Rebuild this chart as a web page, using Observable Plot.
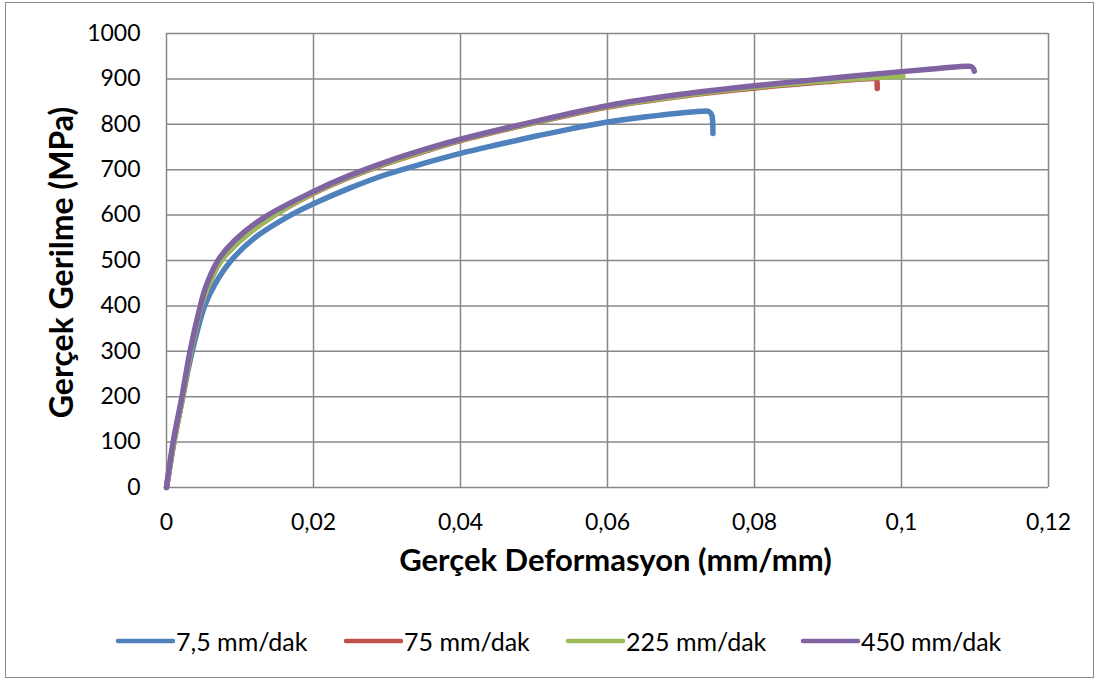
<!DOCTYPE html>
<html>
<head>
<meta charset="utf-8">
<script src="https://cdn.jsdelivr.net/npm/d3@7"></script>
<script src="https://cdn.jsdelivr.net/npm/@observablehq/plot@0.6"></script>
<style>
  html, body { margin: 0; padding: 0; background: #fff; }
  body { width: 1099px; height: 681px; position: relative; overflow: hidden; font-family: Lato, "Open Sans", sans-serif; }
  #frame { position: absolute; left: 5px; top: 2px; width: 1087px; height: 674px; border: 1.5px solid #8a8a8a; }
  #plot { position: absolute; left: 0; top: 0; }
  #legend { position: absolute; left: 0; top: 626px; width: 1099px; height: 30px; font-size: 25px; color: #000; }
  #legend .item { position: absolute; top: 0; display: flex; align-items: center; height: 30px; }
  #legend svg { margin-right: 1px; }
</style>
</head>
<body>
<div id="frame"></div>
<div id="plot"></div>
<div id="legend"></div>
<script>
// True strain (mm/mm) vs. true stress (MPa) for four crosshead speeds
const seriesNames = ["7,5 mm/dak", "75 mm/dak", "225 mm/dak", "450 mm/dak"];
const seriesColors = ["#4F81BD", "#C0504D", "#9BBB59", "#8064A2"];

const strain7 = [0, 0.001, 0.0022, 0.0035, 0.0052, 0.0066, 0.0088, 0.012, 0.0169, 0.02, 0.025, 0.03, 0.035, 0.04, 0.045, 0.05, 0.055, 0.06, 0.065, 0.07, 0.0731, 0.0738, 0.0742, 0.07432, 0.07435];
const stress7 = [0, 100, 200, 300, 400, 448, 500, 550, 600, 625, 660, 690, 714, 736, 755, 773, 790, 805, 816, 825, 829, 828, 820, 800, 780];

const strain75 = [0, 0.001, 0.0022, 0.0033, 0.0047, 0.0055, 0.0073, 0.0098, 0.0138, 0.02, 0.025, 0.03, 0.035, 0.04, 0.05, 0.06, 0.07, 0.08, 0.09, 0.0962, 0.0966, 0.09668, 0.0967];
const stress75 = [0, 100, 200, 300, 400, 437, 497, 541, 591, 648, 684, 714, 740, 764, 803, 838, 862, 880, 894, 901, 900, 890, 879];

const strain225 = [0, 0.001, 0.0022, 0.0033, 0.0047, 0.0055, 0.0073, 0.0098, 0.0138, 0.02, 0.025, 0.03, 0.035, 0.04, 0.05, 0.06, 0.07, 0.08, 0.09, 0.1, 0.1002];
const stress225 = [0, 100, 200, 300, 400, 437, 497, 541, 591, 649, 685, 715, 741, 765, 804, 839, 863, 882, 896, 906, 906];

const strain450 = [0, 0.0009, 0.0021, 0.0032, 0.0046, 0.0053, 0.0070, 0.0092, 0.0132, 0.02, 0.025, 0.03, 0.035, 0.04, 0.05, 0.06, 0.07, 0.08, 0.09, 0.1, 0.105, 0.109, 0.1095, 0.1098, 0.1099];
const stress450 = [0, 100, 200, 300, 400, 440, 500, 543, 594, 652, 688, 718, 744, 767, 806, 841, 866, 885, 901, 916, 923, 928, 927, 922, 917];

const xTicks = [0, 0.02, 0.04, 0.06, 0.08, 0.1, 0.12];
const yTicks = [0, 100, 200, 300, 400, 500, 600, 700, 800, 900, 1000];

// legend entry left edges (px)
const legendLeft = [115, 343, 565, 800];

const strains = [strain7, strain75, strain225, strain450];
const stresses = [stress7, stress75, stress225, stress450];
const rows = seriesNames.flatMap((name, i) =>
  strains[i].map((x, j) => ({series: name, x, y: stresses[i][j]}))
);

const fmtX = d => String(d).replace(".", ",");
const fmtY = d3.format("d");
const font = "Lato, 'Open Sans', sans-serif";

const chart = Plot.plot({
  width: 1099,
  height: 600,
  marginLeft: 166,
  marginRight: 51,
  marginTop: 33,
  marginBottom: 113,
  style: {fontFamily: font, background: "transparent"},
  x: {domain: [0, 0.12], ticks: xTicks, tickFormat: fmtX},
  y: {domain: [0, 1000], ticks: yTicks, tickFormat: fmtY},
  color: {domain: seriesNames, range: seriesColors},
  marks: [
    Plot.ruleX(xTicks, {stroke: "#888", strokeWidth: 1.5, strokeOpacity: 1}),
    Plot.ruleY(yTicks, {stroke: "#888", strokeWidth: 1.5, strokeOpacity: 1}),
    Plot.axisX({ticks: xTicks, tickFormat: fmtX, tickSize: 0, tickPadding: 26, fontSize: 23, label: null, fill: "#000"}),
    Plot.axisY({ticks: yTicks, tickFormat: fmtY, tickSize: 0, tickPadding: 26, fontSize: 23, label: null, fill: "#000"}),
    Plot.line(rows, {
      x: "x", y: "y", z: "series", stroke: "series",
      strokeWidth: 5.5, curve: "catmull-rom",
      strokeLinecap: "round", strokeLinejoin: "round"
    }),
    Plot.text(["Gerçek Deformasyon (mm/mm)"], {
      frameAnchor: "bottom", dx: 8, dy: 83, fontSize: 31, fontWeight: "bold", fill: "#000"
    }),
    Plot.text(["Gerçek Gerilme (MPa)"], {
      frameAnchor: "left", textAnchor: "middle", lineAnchor: "middle",
      dx: -104, dy: 2, rotate: -90, fontSize: 32, fontWeight: "bold", fill: "#000"
    })
  ]
});
document.getElementById("plot").append(chart);

// Legend beneath the plot
const legend = d3.select("#legend");
seriesNames.forEach((name, i) => {
  const item = legend.append("div").attr("class", "item").style("left", legendLeft[i] + "px");
  const sw = item.append("svg").attr("width", 60).attr("height", 10);
  sw.append("line").attr("x1", 3).attr("x2", 58).attr("y1", 5).attr("y2", 5)
    .attr("stroke", seriesColors[i]).attr("stroke-width", 4.5).attr("stroke-linecap", "round");
  item.append("span").text(name);
});
</script>
</body>
</html>
